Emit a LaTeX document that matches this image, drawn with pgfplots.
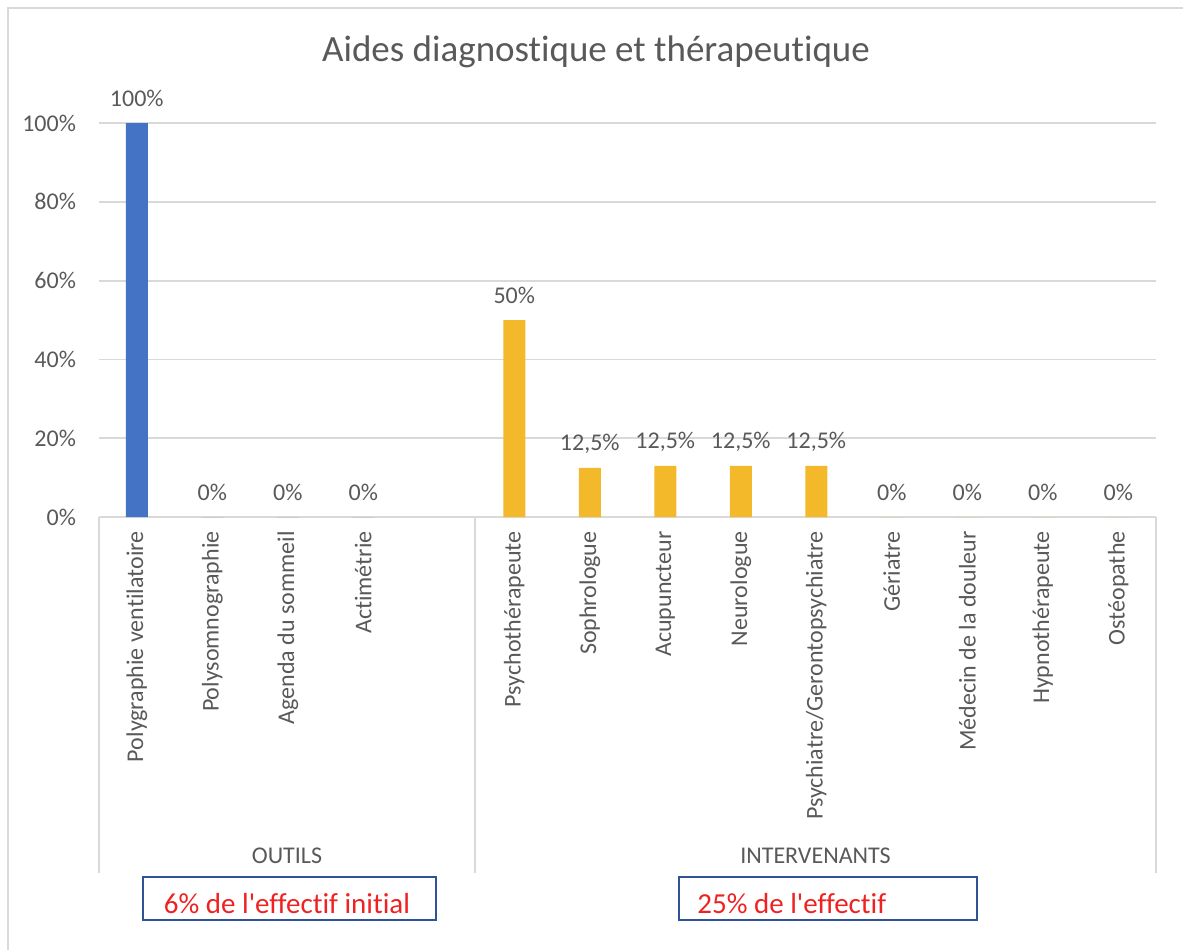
\documentclass[border=0pt]{standalone}
\usepackage{pgfplots}
\pgfplotsset{compat=1.18}
\usepackage{fontspec}
\setmainfont{Carlito}[Ligatures={NoCommon}]
\definecolor{barblue}{HTML}{4472C4}
\definecolor{baryel}{HTML}{F4B92B}
\definecolor{txt}{HTML}{595959}
\definecolor{gridc}{HTML}{D9D9D9}
\definecolor{boxc}{HTML}{2F5496}
\definecolor{redt}{HTML}{EE2222}
\begin{document}
\begin{tikzpicture}[x=0.5pt,y=0.5pt]
\path[use as bounding box] (0,0) rectangle (1183,950);
\draw[gridc, line width=1pt] (8,0) -- (8,942) -- (1183,942);
\begin{axis}[
  at={(49.5pt,216.5pt)}, anchor=south west,
  width=528.5pt, height=197pt, scale only axis,
  xmin=-0.5, xmax=13.5, ymin=0, ymax=100,
  axis line style={draw=none},
  major tick length=0pt,
  ytick={0,20,40,60,80,100},
  yticklabels={0\%,20\%,40\%,60\%,80\%,100\%},
  ymajorgrids, grid style={gridc, line width=0.9pt},
  xtick={0,1,2,3,4,5,6,7,8,9,10,11,12,13},
  xticklabels={Polygraphie ventilatoire,Polysomnographie,Agenda du sommeil,Actimétrie,{},Psychothérapeute,Sophrologue,Acupuncteur,Neurologue,Psychiatre/Gerontopsychiatre,Gériatre,Médecin de la douleur,Hypnothérapeute,Ostéopathe},
  xticklabel style={rotate=90, anchor=east, inner xsep=7pt, font=\fontsize{12}{14}\selectfont, text=txt},
  yticklabel style={font=\fontsize{12}{14}\selectfont, text=txt, xshift=-8pt},
  ybar, bar width=11pt,
  nodes near coords, point meta=explicit symbolic,
  every node near coord/.append style={font=\fontsize{12}{14}\selectfont, text=txt, anchor=base, yshift=8.5pt},
  clip=false,
]
\addplot[fill=barblue, draw=none, bar shift=0pt] coordinates {(0,100) [100\%] (1,0) [0\%] (2,0) [0\%] (3,0) [0\%]};
\addplot[fill=baryel, draw=none, bar shift=0pt] coordinates {(5,50) [50\%] (6,12.5) [{12,5\%}] (7,13) [{12,5\%}] (8,13) [{12,5\%}] (9,13) [{12,5\%}] (10,0) [0\%] (11,0) [0\%] (12,0) [0\%] (13,0) [0\%]};
\end{axis}
\draw[gridc, line width=1pt] (99,433) -- (99,77) (475,433) -- (475,77) (1156,433) -- (1156,77);
\node[text=txt, font=\fontsize{18.5}{22}\selectfont] at (596,898) {Aides diagnostique et thérapeutique};
\node[text=txt, font=\fontsize{12}{14}\selectfont, anchor=base] at (287,87) {OUTILS};
\node[text=txt, font=\fontsize{12}{14}\selectfont, anchor=base] at (815.5,87) {INTERVENANTS};
\draw[boxc, line width=1pt] (143,30) rectangle (436,73);
\draw[boxc, line width=1pt] (679,30) rectangle (977,73);
\node[text=redt, font=\fontsize{14.5}{17}\selectfont, anchor=base] at (287,37) {6\% de l\textquotesingle effectif initial};
\node[text=redt, font=\fontsize{14.5}{17}\selectfont, anchor=base west, inner sep=0pt] at (697,37) {25\% de l\textquotesingle effectif};
\end{tikzpicture}
\end{document}
